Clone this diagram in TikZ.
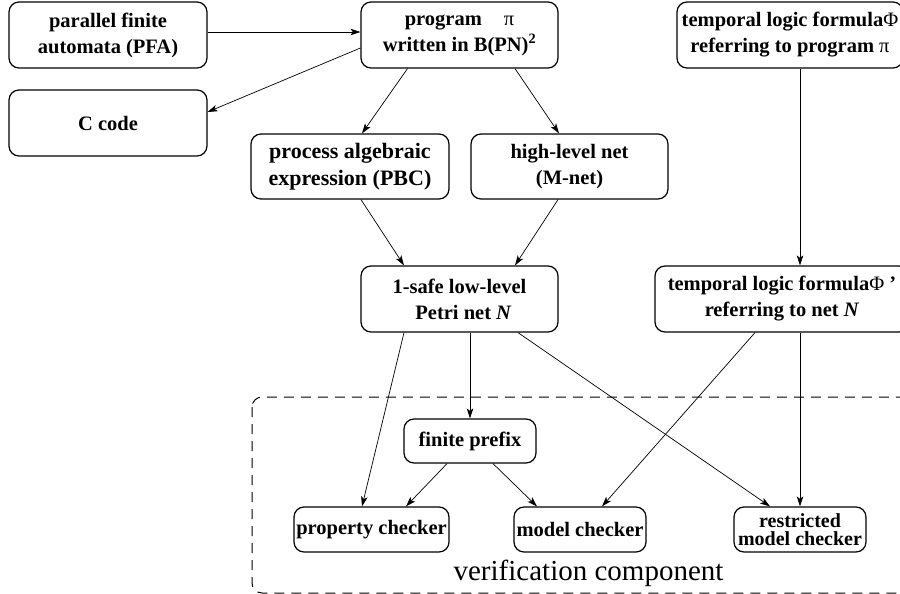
\documentclass[tikz,border=0pt]{standalone}
\usepackage{fontspec}
\setmainfont{Liberation Serif}
\usetikzlibrary{arrows.meta}
\begin{document}
\begin{tikzpicture}[x=1pt,y=-1pt,
  box/.style={draw, line width=1.2pt, rounded corners=10pt, align=center, inner sep=1pt,
    font=\fontsize{20.5}{26}\selectfont\bfseries},
  conn/.style={-{Stealth[length=10pt,width=6.5pt,inset=2.5pt]}, line width=0.7pt},
  groupbox/.style={draw=black, line width=1pt, dash pattern=on 10pt off 7pt, rounded corners=10pt},
]
\useasboundingbox (0,0) rectangle (900,594);
% verification component frame
\draw[groupbox] (252,397) rectangle (930,593);
\node[anchor=base, font=\fontsize{29}{34}\selectfont] (cap) at (588.5,580) {verification component};

% nodes
\node[box, minimum width=198pt, minimum height=66pt] (pfa) at (108,35) {parallel finite\\automata (PFA)};
\node[box, minimum width=197pt, minimum height=66pt] (prog) at (459.5,35) {program\hspace{22pt}{\mdseries π}\\written in B(PN)\textsuperscript{2}};
\node[box, minimum width=226pt, minimum height=66pt] (tl) at (790,35) {temporal logic formula{\mdseries Φ}\\referring to program {\mdseries π}};
\node[box, minimum width=198pt, minimum height=66pt] (ccode) at (108,123) {C code};
\node[box, minimum width=198pt, minimum height=65pt, font=\fontsize{22}{27}\selectfont\bfseries] (pbc) at (350,166.5) {process algebraic\\expression (PBC)};
\node[box, minimum width=197pt, minimum height=65pt] (hl) at (569.5,166.5) {high-level net\\(M-net)};
\node[box, minimum width=197pt, minimum height=66pt] (petri) at (459.5,299) {1-safe low-level\\\hspace{8pt}Petri net \textit{N}};
\node[box, minimum width=254pt, minimum height=66pt] (tlp) at (782,299) {temporal logic formula{\mdseries Φ} ’\\referring to net \textit{N}};
\node[box, minimum width=132pt, minimum height=44pt] (fp) at (470,441) {finite prefix};
\node[box, minimum width=155pt, minimum height=45pt] (pc) at (371.5,529.5) {property checker};
\node[box, minimum width=132pt, minimum height=45pt] (mc) at (580,529.5) {model checker};
\node[box, minimum width=132pt, minimum height=45pt, font=\fontsize{20}{18.5}\selectfont\bfseries] (rmc) at (800,529.5) {restricted\\model checker};

% connectors
\draw[conn] ([yshift=3pt]pfa.east) -- ([yshift=3pt]prog.west);
\draw[conn] ([yshift=-13pt]prog.west) -- ([yshift=11pt]ccode.east);
\draw[conn] ([xshift=-52pt]prog.south) -- ([xshift=12pt]pbc.north);
\draw[conn] ([xshift=55.5pt]prog.south) -- ([xshift=-10.5pt]hl.north);
\draw[conn] ([xshift=11pt]pbc.south) -- ([xshift=-55.5pt]petri.north);
\draw[conn] ([xshift=-11.5pt]hl.south) -- ([xshift=55.5pt]petri.north);
\draw[conn] ([xshift=10pt]tl.south) -- ([xshift=18pt]tlp.north);
\draw[conn] ([xshift=-55.5pt]petri.south) -- ([xshift=-9.5pt]pc.north);
\draw[conn] ([xshift=10.5pt]petri.south) -- (fp.north);
\draw[conn] ([xshift=58.5pt]petri.south) -- ([xshift=-30pt]rmc.north);
\draw[conn] ([xshift=-27pt]tlp.south) -- ([xshift=22pt]mc.north);
\draw[conn] ([xshift=18pt]tlp.south) -- (rmc.north);
\draw[conn] ([xshift=-23pt]fp.south) -- ([xshift=34.5pt]pc.north);
\draw[conn] ([xshift=23pt]fp.south) -- ([xshift=-43pt]mc.north);
\end{tikzpicture}
\end{document}
